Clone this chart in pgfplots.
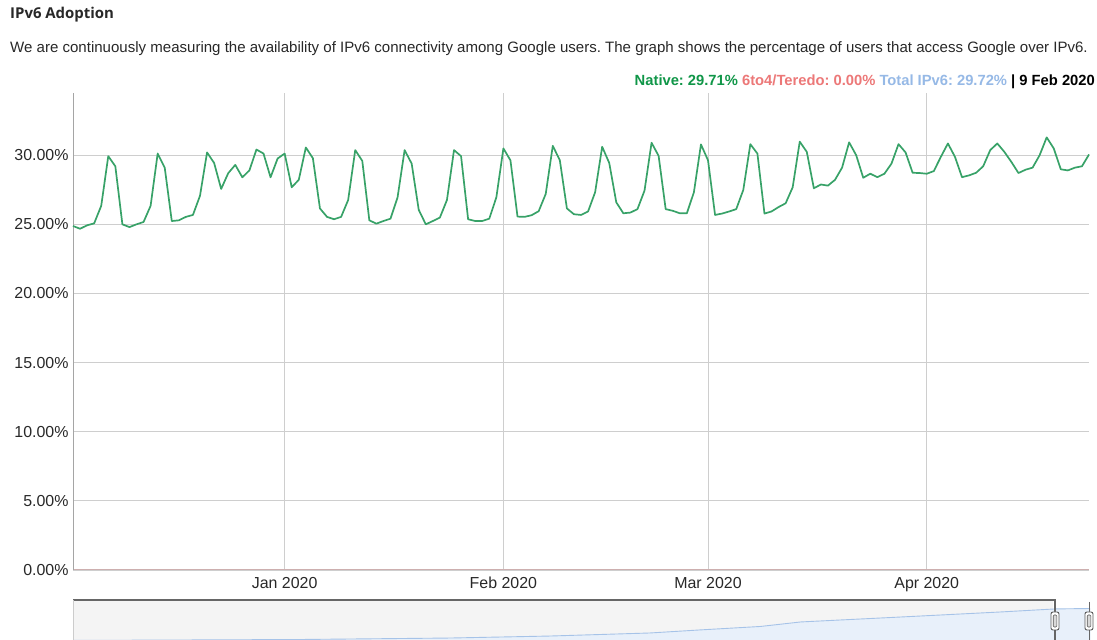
\documentclass[border=0pt]{standalone}
\usepackage{fontspec}
\setmainfont{Liberation Sans}
\newfontfamily\opensans{Open Sans}
\usepackage{pgfplots}
\pgfplotsset{compat=1.18}
\frenchspacing
\definecolor{linegreen}{RGB}{56,162,104}
\definecolor{gridgray}{RGB}{206,206,206}
\definecolor{yaxisgray}{RGB}{165,165,165}
\definecolor{xaxispink}{RGB}{205,175,175}
\definecolor{labelgray}{RGB}{40,40,40}
\definecolor{nativegreen}{RGB}{16,150,72}
\definecolor{teredored}{RGB}{236,120,120}
\definecolor{totalblue}{RGB}{150,185,230}
\definecolor{stripblue}{RGB}{166,195,232}
\definecolor{stripfill}{RGB}{232,240,250}
\definecolor{stripbg}{RGB}{244,244,244}
\begin{document}
\begin{tikzpicture}[x=1bp,y=1bp]
\path[use as bounding box] (0,0) rectangle (1097,640);
% header texts
\node[anchor=west,inner sep=0pt,text=labelgray] at (10,625) {\opensans\bfseries\fontsize{15}{18}\selectfont IPv6 Adoption};
\node[anchor=west,inner sep=0pt,text=labelgray] at (10,591) {\fontsize{15.1}{18}\selectfont We are continuously measuring the availability of IPv6 connectivity among Google users. The graph shows the percentage of users that access Google over IPv6.};
\node[anchor=east,inner sep=0pt] at (1095,558) {\bfseries\fontsize{14.8}{17}\selectfont\textcolor{nativegreen}{Native: 29.71\%} \textcolor{teredored}{6to4/Teredo: 0.00\%} \textcolor{totalblue}{Total IPv6: 29.72\%} \textcolor{black}{| 9 Feb 2020}};
\begin{axis}[
  at={(73bp,70bp)}, anchor=south west,
  scale only axis, width=1016bp, height=477bp,
  xmin=-30, xmax=114, ymin=0, ymax=34.5,
  axis x line*=bottom, axis y line*=left,
  x axis line style={color=xaxispink, line width=1bp},
  y axis line style={color=yaxisgray, line width=1bp},
  xtick={0,31,60,91},
  xticklabels={Jan 2020,Feb 2020,Mar 2020,Apr 2020},
  ytick={0,5,10,15,20,25,30},
  yticklabels={0.00\%,5.00\%,10.00\%,15.00\%,20.00\%,25.00\%,30.00\%},
  major tick length=0pt,
  xmajorgrids, ymajorgrids,
  major grid style={color=gridgray, line width=0.9bp},
  tick label style={font=\fontsize{16}{19}\selectfont, text=labelgray},
  xticklabel style={yshift=-3bp, text height=12bp, text depth=3bp},
  yticklabel style={xshift=-1bp},
  /pgf/number format/assume math mode=true,
  clip=false,
]
\addplot[linegreen, line width=1.7bp, line join=round] coordinates {
(-30,24.88) (-29,24.68) (-28,24.93) (-27,25.07) (-26,26.34) (-25,29.93) (-24,29.20)
(-23,25.00) (-22,24.80) (-21,25.00) (-20,25.17) (-19,26.34) (-18,30.12) (-17,29.10)
(-16,25.24) (-15,25.29) (-14,25.54) (-13,25.68) (-12,27.07) (-11,30.20) (-10,29.44)
(-9,27.56) (-8,28.70) (-7,29.30) (-6,28.40) (-5,28.90) (-4,30.41) (-3,30.12)
(-2,28.40) (-1,29.76) (0,30.12) (1,27.68) (2,28.22) (3,30.56) (4,29.78)
(5,26.15) (6,25.54) (7,25.37) (8,25.54) (9,26.76) (10,30.37) (11,29.59)
(12,25.29) (13,25.05) (14,25.24) (15,25.41) (16,26.95) (17,30.37) (18,29.39)
(19,26.05) (20,25.00) (21,25.24) (22,25.49) (23,26.76) (24,30.37) (25,29.93)
(26,25.37) (27,25.24) (28,25.24) (29,25.41) (30,26.95) (31,30.49) (32,29.63)
(33,25.56) (34,25.54) (35,25.66) (36,25.95) (37,27.20) (38,30.68) (39,29.63)
(40,26.15) (41,25.73) (42,25.68) (43,25.93) (44,27.32) (45,30.61) (46,29.44)
(47,26.59) (48,25.80) (49,25.85) (50,26.10) (51,27.44) (52,30.90) (53,29.95)
(54,26.10) (55,25.98) (56,25.80) (57,25.80) (58,27.32) (59,30.78) (60,29.63)
(61,25.68) (62,25.78) (63,25.93) (64,26.10) (65,27.49) (66,30.80) (67,30.12)
(68,25.78) (69,25.93) (70,26.25) (71,26.52) (72,27.68) (73,30.98) (74,30.24)
(75,27.61) (76,27.88) (77,27.80) (78,28.22) (79,29.10) (80,30.93) (81,30.00)
(82,28.37) (83,28.66) (84,28.41) (85,28.66) (86,29.39) (87,30.80) (88,30.20)
(89,28.73) (90,28.71) (91,28.66) (92,28.85) (93,29.88) (94,30.85) (95,29.88)
(96,28.41) (97,28.54) (98,28.73) (99,29.20) (100,30.37) (101,30.85) (102,30.24)
(103,29.51) (104,28.71) (105,28.95) (106,29.10) (107,30.00) (108,31.29) (109,30.49)
(110,28.98) (111,28.90) (112,29.10) (113,29.20) (114,30.05)
};
\end{axis}
% overview strip
\begin{axis}[
  at={(73bp,-1.5bp)}, anchor=south west,
  scale only axis, width=1017bp, height=41.5bp,
  xmin=2008.7, xmax=2020.3, ymin=0, ymax=39.5,
  axis lines=none, ticks=none, clip=true,
]
\fill[stripbg] (axis cs:2008.7,0) rectangle (axis cs:2019.88,39.5);
\fill[white] (axis cs:2019.88,0) rectangle (axis cs:2020.3,39.5);
\addplot[draw=stripblue, line width=0.9bp, fill=stripfill] coordinates {
(2008.7,1.0) (2011.29,1.9) (2013.0,3.3) (2014.14,5.2) (2015.28,8.1) (2015.85,11.0)
(2016.54,14.3) (2017.0,18.6) (2018.14,23.3) (2019.28,28.1) (2019.9,31.0) (2020.3,31.4)
} \closedcycle;
\end{axis}
\draw[color=gray!80!black, line width=1.2bp] (73,40) -- (1055,40) -- (1055,-2);
\draw[color=gray!40, line width=0.8bp] (73,40) -- (73,-2);
\draw[color=gray!80!black, line width=1bp] (1089,38) -- (1089,-2);
\foreach \hx in {1055,1089}{
  \draw[fill=white, draw=gray!70!black, line width=0.9bp, rounded corners=2bp] (\hx-4,10) rectangle (\hx+4,28);
  \draw[fill=gray!30, draw=gray!70!black, line width=0.6bp, rounded corners=1bp] (\hx-1.8,13) rectangle (\hx+1.8,25);
}
\end{tikzpicture}
\end{document}
